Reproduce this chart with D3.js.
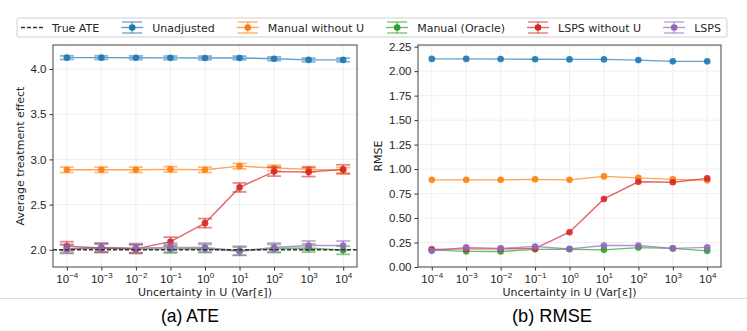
<!DOCTYPE html>
<html>
<head>
<meta charset="utf-8">
<script src="https://cdn.jsdelivr.net/npm/d3@7"></script>
<style>
  body { margin: 0; background: #fff; }
  svg { display: block; font-family: "DejaVu Sans", sans-serif; }
</style>
</head>
<body>
<svg id="chart" width="747" height="331"></svg>
<script>
// uncertainty levels (Var[eps]) as powers of ten
const exponents = [-4, -3, -2, -1, 0, 1, 2, 3, 4];
const seriesNames = ["Unadjusted", "Manual without U", "Manual (Oracle)", "LSPS without U", "LSPS"];
const seriesColors = ["#1f77b4", "#ff7f0e", "#2ca02c", "#d62728", "#9467bd"];
const trueAte = 2.0;

// (a) ATE, mean and half-width of error bar
const ateUnadjusted = [4.125, 4.125, 4.124, 4.123, 4.122, 4.122, 4.113, 4.100, 4.100];
const ateManual = [2.885, 2.885, 2.885, 2.890, 2.885, 2.925, 2.905, 2.890, 2.880];
const ateOracle = [2.010, 2.020, 2.010, 2.010, 2.015, 1.985, 2.015, 2.020, 1.995];
const ateLspsNoU = [2.040, 2.020, 2.010, 2.090, 2.295, 2.690, 2.865, 2.860, 2.890];
const ateLsps = [2.010, 2.025, 2.020, 2.025, 2.025, 1.990, 2.025, 2.048, 2.048];
const ateErr = [0.020, 0.030, 0.045, 0.050, 0.050];

// (b) RMSE
const rmseUnadjusted = [2.125, 2.125, 2.123, 2.122, 2.120, 2.120, 2.113, 2.100, 2.100];
const rmseManual = [0.890, 0.890, 0.890, 0.895, 0.890, 0.925, 0.910, 0.895, 0.885];
const rmseOracle = [0.175, 0.160, 0.158, 0.180, 0.182, 0.175, 0.198, 0.190, 0.165];
const rmseLspsNoU = [0.180, 0.185, 0.185, 0.190, 0.355, 0.695, 0.870, 0.865, 0.905];
const rmseLsps = [0.165, 0.200, 0.190, 0.210, 0.185, 0.220, 0.220, 0.190, 0.200];

const ateTicks = [2.0, 2.5, 3.0, 3.5, 4.0];
const rmseTicks = [0, 0.25, 0.5, 0.75, 1.0, 1.25, 1.5, 1.75, 2.0, 2.25];

const svg = d3.select("#chart");

function panel(opts) {
  const { left, right, top, bottom, yDomain, yTicks, yFmt, data, err, yLabel, caption, capX } = opts;
  const x = d3.scaleLog().domain([Math.pow(10, -4.4), Math.pow(10, 4.4)]).range([left, right]);
  const y = d3.scaleLinear().domain(yDomain).range([bottom, top]);
  const g = svg.append("g");

  // grid
  g.append("g").selectAll("line").data(exponents).join("line")
    .attr("x1", d => x(Math.pow(10, d))).attr("x2", d => x(Math.pow(10, d)))
    .attr("y1", top).attr("y2", bottom)
    .attr("stroke", "#ebebeb").attr("stroke-width", 0.8);
  g.append("g").selectAll("line").data(yTicks).join("line")
    .attr("x1", left).attr("x2", right)
    .attr("y1", d => y(d)).attr("y2", d => y(d))
    .attr("stroke", "#ebebeb").attr("stroke-width", 0.8);

  // x axis
  const xa = g.append("g").attr("transform", `translate(0,${bottom})`)
    .call(d3.axisBottom(x).tickValues(exponents.map(e => Math.pow(10, e))).tickSize(3.5).tickPadding(3).tickFormat(""));
  xa.select(".domain").remove();
  xa.selectAll("line").attr("stroke", "#333");
  xa.selectAll(".tick").each(function (d) {
    const e = Math.round(Math.log10(d));
    const t = d3.select(this).append("text")
      .attr("y", 16).attr("text-anchor", "middle")
      .attr("fill", "#262626").style("font-size", "11.5px");
    t.append("tspan").text("10");
    t.append("tspan").attr("dy", -5).style("font-size", "8px")
      .text(e < 0 ? "\u2212" + Math.abs(e) : String(e));
  });

  // y axis
  const ya = g.append("g").attr("transform", `translate(${left},0)`)
    .call(d3.axisLeft(y).tickValues(yTicks).tickSize(3.5).tickPadding(3).tickFormat(yFmt));
  ya.select(".domain").remove();
  ya.selectAll("line").attr("stroke", "#333");
  ya.selectAll("text").attr("fill", "#262626").style("font-size", "11.5px");

  // series
  const line = d3.line().x((d, i) => x(Math.pow(10, exponents[i]))).y(d => y(d));
  data.forEach((vals, s) => {
    const c = seriesColors[s];
    const sg = g.append("g");
    sg.append("path").datum(vals).attr("d", line)
      .attr("fill", "none").attr("stroke", c).attr("stroke-width", 1.4).attr("stroke-opacity", 0.7);
    if (err) {
      const e = err[s];
      const eb = sg.append("g").attr("stroke", c).attr("stroke-opacity", 0.55).attr("stroke-width", 1.8);
      vals.forEach((v, i) => {
        const cx = x(Math.pow(10, exponents[i]));
        eb.append("line").attr("x1", cx).attr("x2", cx).attr("y1", y(v - e)).attr("y2", y(v + e));
        eb.append("line").attr("x1", cx - 7).attr("x2", cx + 7).attr("y1", y(v - e)).attr("y2", y(v - e));
        eb.append("line").attr("x1", cx - 7).attr("x2", cx + 7).attr("y1", y(v + e)).attr("y2", y(v + e));
      });
    }
    sg.selectAll("circle").data(vals).join("circle")
      .attr("cx", (d, i) => x(Math.pow(10, exponents[i]))).attr("cy", d => y(d))
      .attr("r", 3.3).attr("fill", c).attr("fill-opacity", 0.9);
  });

  if (opts.refLine != null) {
    g.append("line").attr("x1", left).attr("x2", right)
      .attr("y1", y(opts.refLine)).attr("y2", y(opts.refLine))
      .attr("stroke", "#333").attr("stroke-width", 1.5).attr("stroke-dasharray", "4,2");
  }

  // frame
  g.append("rect").attr("x", left).attr("y", top).attr("width", right - left).attr("height", bottom - top)
    .attr("fill", "none").attr("stroke", "#444").attr("stroke-width", 1);

  // labels
  g.append("text").attr("x", (left + right) / 2).attr("y", 296).attr("text-anchor", "middle")
    .attr("fill", "#262626").style("font-size", "11px").text("Uncertainty in U (Var[\u03b5])");
  g.append("text").attr("transform", `translate(${opts.yLabelX},${(top + bottom) / 2}) rotate(-90)`)
    .attr("text-anchor", "middle").attr("fill", "#262626").style("font-size", "11px").text(yLabel);
  svg.append("text").attr("x", capX).attr("y", 322).attr("text-anchor", "middle")
    .attr("textLength", opts.capW).attr("lengthAdjust", "spacingAndGlyphs")
    .style("font-family", "'Liberation Sans', Arial, sans-serif").style("font-size", "19px")
    .attr("fill", "#000").text(caption);
}

panel({
  left: 53, right: 357, top: 45, bottom: 267,
  yDomain: [1.81, 4.265], yTicks: ateTicks, yFmt: d3.format(".1f"),
  data: [ateUnadjusted, ateManual, ateOracle, ateLspsNoU, ateLsps], err: ateErr,
  refLine: trueAte, yLabel: "Average treatment effect", yLabelX: 24, caption: "(a) ATE", capX: 190, capW: 58
});
panel({
  left: 418, right: 721, top: 45, bottom: 267,
  yDomain: [0, 2.267], yTicks: rmseTicks, yFmt: d3.format(".2f"),
  data: [rmseUnadjusted, rmseManual, rmseOracle, rmseLspsNoU, rmseLsps], err: null,
  refLine: null, yLabel: "RMSE", yLabelX: 382, caption: "(b) RMSE", capX: 552, capW: 80
});

// separator under the panels
svg.append("line").attr("x1", 0).attr("x2", 747).attr("y1", 298.5).attr("y2", 298.5)
  .attr("stroke", "#dcdcdc").attr("stroke-width", 1);

// legend
const leg = svg.append("g");
const box = leg.append("rect").attr("x", 17).attr("y", 18).attr("width", 720).attr("height", 19)
  .attr("rx", 2).attr("fill", "#fff").attr("stroke", "#d0d0d0");
const legItems = [{ name: "True ATE", color: null }].concat(seriesNames.map((n, i) => ({ name: n, color: seriesColors[i] })));
let lx = 21;
const ly = 27.5;
legItems.forEach(it => {
  if (it.color == null) {
    leg.append("line").attr("x1", lx).attr("x2", lx + 22).attr("y1", ly).attr("y2", ly)
      .attr("stroke", "#333").attr("stroke-width", 1.5).attr("stroke-dasharray", "4,2");
  } else {
    const cx = lx + 11;
    const gg = leg.append("g").attr("stroke", it.color);
    gg.append("line").attr("x1", lx).attr("x2", lx + 22).attr("y1", ly).attr("y2", ly).attr("stroke-opacity", 0.7).attr("stroke-width", 1.4);
    gg.append("line").attr("x1", cx).attr("x2", cx).attr("y1", ly - 5.5).attr("y2", ly + 5.5).attr("stroke-opacity", 0.55).attr("stroke-width", 1.6);
    gg.append("line").attr("x1", lx + 1).attr("x2", lx + 21).attr("y1", ly - 5.5).attr("y2", ly - 5.5).attr("stroke-opacity", 0.55).attr("stroke-width", 1.6);
    gg.append("line").attr("x1", lx + 1).attr("x2", lx + 21).attr("y1", ly + 5.5).attr("y2", ly + 5.5).attr("stroke-opacity", 0.55).attr("stroke-width", 1.6);
    leg.append("circle").attr("cx", cx).attr("cy", ly).attr("r", 3.3).attr("fill", it.color);
  }
  const t = leg.append("text").attr("x", lx + 31).attr("y", ly + 4).attr("fill", "#262626")
    .style("font-size", "11px").text(it.name);
  lx = lx + 31 + t.node().getComputedTextLength() + 22;
});
box.attr("width", lx - 22 + 6 - 17);
</script>
</body>
</html>
